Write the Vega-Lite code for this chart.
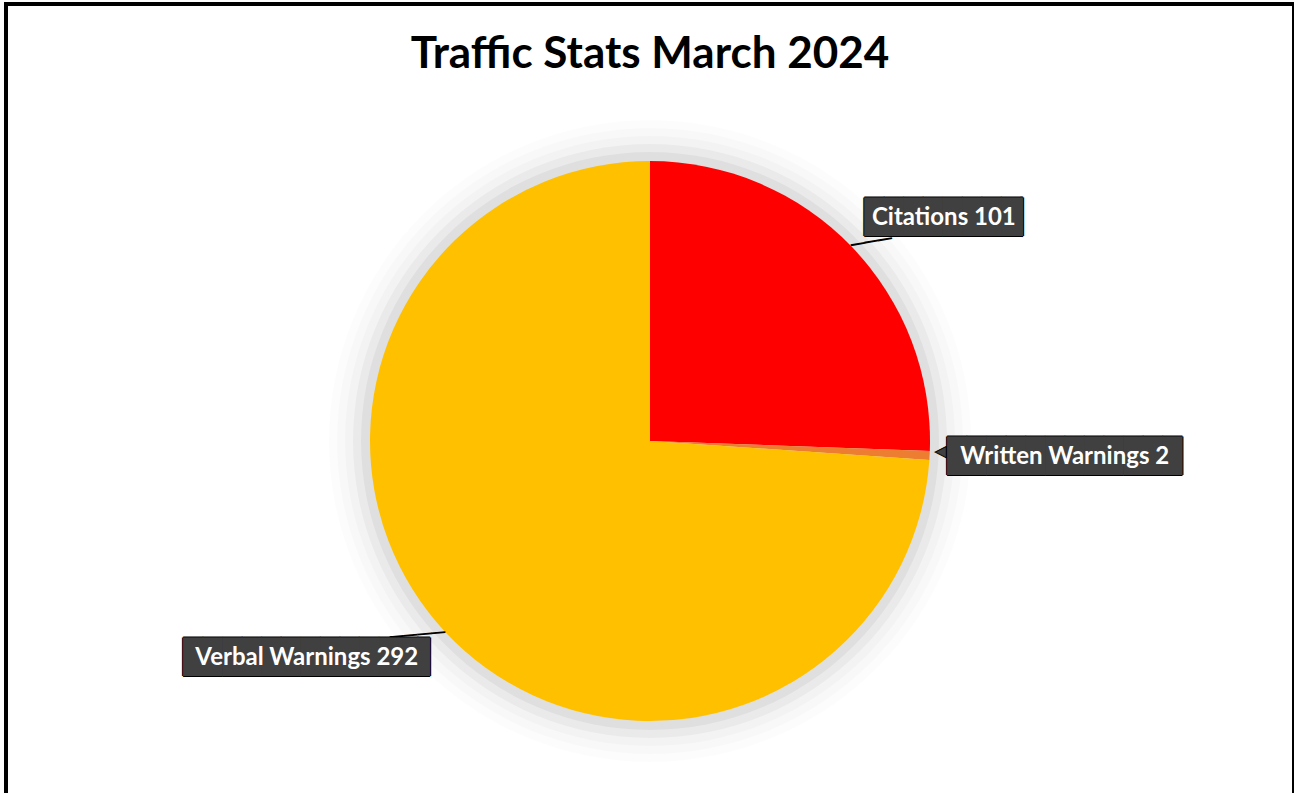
{
  "$schema": "https://vega.github.io/schema/vega-lite/v6.json",
  "width": 1288,
  "height": 874,
  "autosize": {"type": "none"},
  "padding": {"left": 6, "top": 4, "right": 0, "bottom": 0},
  "background": "white",
  "title": {
    "text": "Traffic Stats March 2024",
    "font": "Lato",
    "fontWeight": "bold",
    "fontSize": 44,
    "color": "#000000",
    "anchor": "middle",
    "frame": "group",
    "baseline": "alphabetic",
    "offset": -108
  },
  "view": {"stroke": "#000000", "strokeWidth": 4},
  "config": {"view": {"stroke": "#000000", "strokeWidth": 4}},
  "data": {"values": [
    {"category": "Citations", "count": 101},
    {"category": "Written Warnings", "count": 2},
    {"category": "Verbal Warnings", "count": 292}
  ]},
  "transform": [{"window": [{"op": "row_number", "as": "rank"}]}],
  "encoding": {
    "theta": {"field": "count", "type": "quantitative", "stack": true},
    "order": {"field": "rank", "type": "quantitative"}
  },
  "layer": [
    {"mark": {"type": "arc", "radius": 321, "fill": "#000000", "opacity": 0.01}, "transform": [{"aggregate": [{"op": "sum", "field": "count", "as": "count"}]}, {"calculate": "1", "as": "rank"}]},
    {"mark": {"type": "arc", "radius": 313, "fill": "#000000", "opacity": 0.015}, "transform": [{"aggregate": [{"op": "sum", "field": "count", "as": "count"}]}, {"calculate": "1", "as": "rank"}]},
    {"mark": {"type": "arc", "radius": 305, "fill": "#000000", "opacity": 0.02}, "transform": [{"aggregate": [{"op": "sum", "field": "count", "as": "count"}]}, {"calculate": "1", "as": "rank"}]},
    {"mark": {"type": "arc", "radius": 297, "fill": "#000000", "opacity": 0.037}, "transform": [{"aggregate": [{"op": "sum", "field": "count", "as": "count"}]}, {"calculate": "1", "as": "rank"}]},
    {"mark": {"type": "arc", "radius": 289, "fill": "#000000", "opacity": 0.045}, "transform": [{"aggregate": [{"op": "sum", "field": "count", "as": "count"}]}, {"calculate": "1", "as": "rank"}]},
    {
      "mark": {"type": "arc", "radius": 280},
      "encoding": {
        "color": {
          "field": "category",
          "type": "nominal",
          "scale": {"domain": ["Citations", "Written Warnings", "Verbal Warnings"], "range": ["#FF0000", "#ED7D31", "#FFC000"]},
          "legend": null
        }
      }
    },
    {
      "mark": {
        "type": "text",
        "font": "DejaVu Sans Mono",
        "fontSize": 23,
        "align": "center",
        "baseline": "middle",
        "fill": "#000000",
        "radius": {"expr": "datum.category == 'Citations' ? 297.4 : 303.1"},
        "thetaOffset": {"expr": "datum.category == 'Citations' ? 0.0368 : 0.055"},
        "angle": {"expr": "datum.category == 'Citations' ? -9.7 : -5.2"},
        "text": {"expr": "datum.category == 'Citations' ? '───' : datum.category == 'Verbal Warnings' ? '────' : ''"}
      }
    },
    {
      "mark": {
        "type": "text",
        "font": "DejaVu Sans",
        "fontSize": 15,
        "align": "center",
        "baseline": "middle",
        "fill": "#404040",
        "stroke": "#000000",
        "strokeWidth": 1,
        "radius": 291,
        "thetaOffset": -0.0173,
        "text": {"expr": "datum.category == 'Written Warnings' ? '◀' : ''"}
      }
    },
    {
      "mark": {
        "type": "text", "font": "DejaVu Sans Mono", "fontSize": 32.5, "align": "center", "baseline": "middle", "fill": "#000000",
        "dx": {"expr": "(datum.category == 'Citations' ? 8.56 : datum.category == 'Written Warnings' ? 0 : 3.67) - 1"},
        "dy": 0,
        "radius": {"expr": "datum.category == 'Citations' ? 369 : datum.category == 'Written Warnings' ? 415 : 406"},
        "thetaOffset": {"expr": "datum.category == 'Citations' ? 0.118 : datum.category == 'Written Warnings' ? -0.0143 : 0.188"},
        "text": {"expr": "datum.category == 'Citations' ? '████████▏' : datum.category == 'Written Warnings' ? '████████████' : '████████████▋'"}
      }
    },
    {
      "mark": {
        "type": "text", "font": "DejaVu Sans Mono", "fontSize": 32.5, "align": "center", "baseline": "middle", "fill": "#000000",
        "dx": {"expr": "(datum.category == 'Citations' ? 8.56 : datum.category == 'Written Warnings' ? 0 : 3.67) + 1"},
        "dy": 0,
        "radius": {"expr": "datum.category == 'Citations' ? 369 : datum.category == 'Written Warnings' ? 415 : 406"},
        "thetaOffset": {"expr": "datum.category == 'Citations' ? 0.118 : datum.category == 'Written Warnings' ? -0.0143 : 0.188"},
        "text": {"expr": "datum.category == 'Citations' ? '████████▏' : datum.category == 'Written Warnings' ? '████████████' : '████████████▋'"}
      }
    },
    {
      "mark": {
        "type": "text", "font": "DejaVu Sans Mono", "fontSize": 32.5, "align": "center", "baseline": "middle", "fill": "#000000",
        "dx": {"expr": "datum.category == 'Citations' ? 8.56 : datum.category == 'Written Warnings' ? 0 : 3.67"},
        "dy": -1,
        "radius": {"expr": "datum.category == 'Citations' ? 369 : datum.category == 'Written Warnings' ? 415 : 406"},
        "thetaOffset": {"expr": "datum.category == 'Citations' ? 0.118 : datum.category == 'Written Warnings' ? -0.0143 : 0.188"},
        "text": {"expr": "datum.category == 'Citations' ? '████████▏' : datum.category == 'Written Warnings' ? '████████████' : '████████████▋'"}
      }
    },
    {
      "mark": {
        "type": "text", "font": "DejaVu Sans Mono", "fontSize": 32.5, "align": "center", "baseline": "middle", "fill": "#000000",
        "dx": {"expr": "datum.category == 'Citations' ? 8.56 : datum.category == 'Written Warnings' ? 0 : 3.67"},
        "dy": 1,
        "radius": {"expr": "datum.category == 'Citations' ? 369 : datum.category == 'Written Warnings' ? 415 : 406"},
        "thetaOffset": {"expr": "datum.category == 'Citations' ? 0.118 : datum.category == 'Written Warnings' ? -0.0143 : 0.188"},
        "text": {"expr": "datum.category == 'Citations' ? '████████▏' : datum.category == 'Written Warnings' ? '████████████' : '████████████▋'"}
      }
    },
    {
      "mark": {
        "type": "text", "font": "DejaVu Sans Mono", "fontSize": 32.5, "align": "center", "baseline": "middle", "fill": "#404040",
        "dx": {"expr": "datum.category == 'Citations' ? 8.56 : datum.category == 'Written Warnings' ? 0 : 3.67"},
        "radius": {"expr": "datum.category == 'Citations' ? 369 : datum.category == 'Written Warnings' ? 415 : 406"},
        "thetaOffset": {"expr": "datum.category == 'Citations' ? 0.118 : datum.category == 'Written Warnings' ? -0.0143 : 0.188"},
        "text": {"expr": "datum.category == 'Citations' ? '████████▏' : datum.category == 'Written Warnings' ? '████████████' : '████████████▋'"}
      }
    },
    {
      "mark": {
        "type": "text",
        "font": "Lato",
        "fontWeight": "bold",
        "fontSize": 24,
        "align": "center",
        "baseline": "middle",
        "fill": "#FFFFFF",
        "radius": {"expr": "datum.category == 'Citations' ? 369 : datum.category == 'Written Warnings' ? 415 : 406"},
        "thetaOffset": {"expr": "datum.category == 'Citations' ? 0.118 : datum.category == 'Written Warnings' ? -0.0143 : 0.188"},
        "text": {"expr": "datum.category + ' ' + datum.count"}
      }
    }
  ]
}
